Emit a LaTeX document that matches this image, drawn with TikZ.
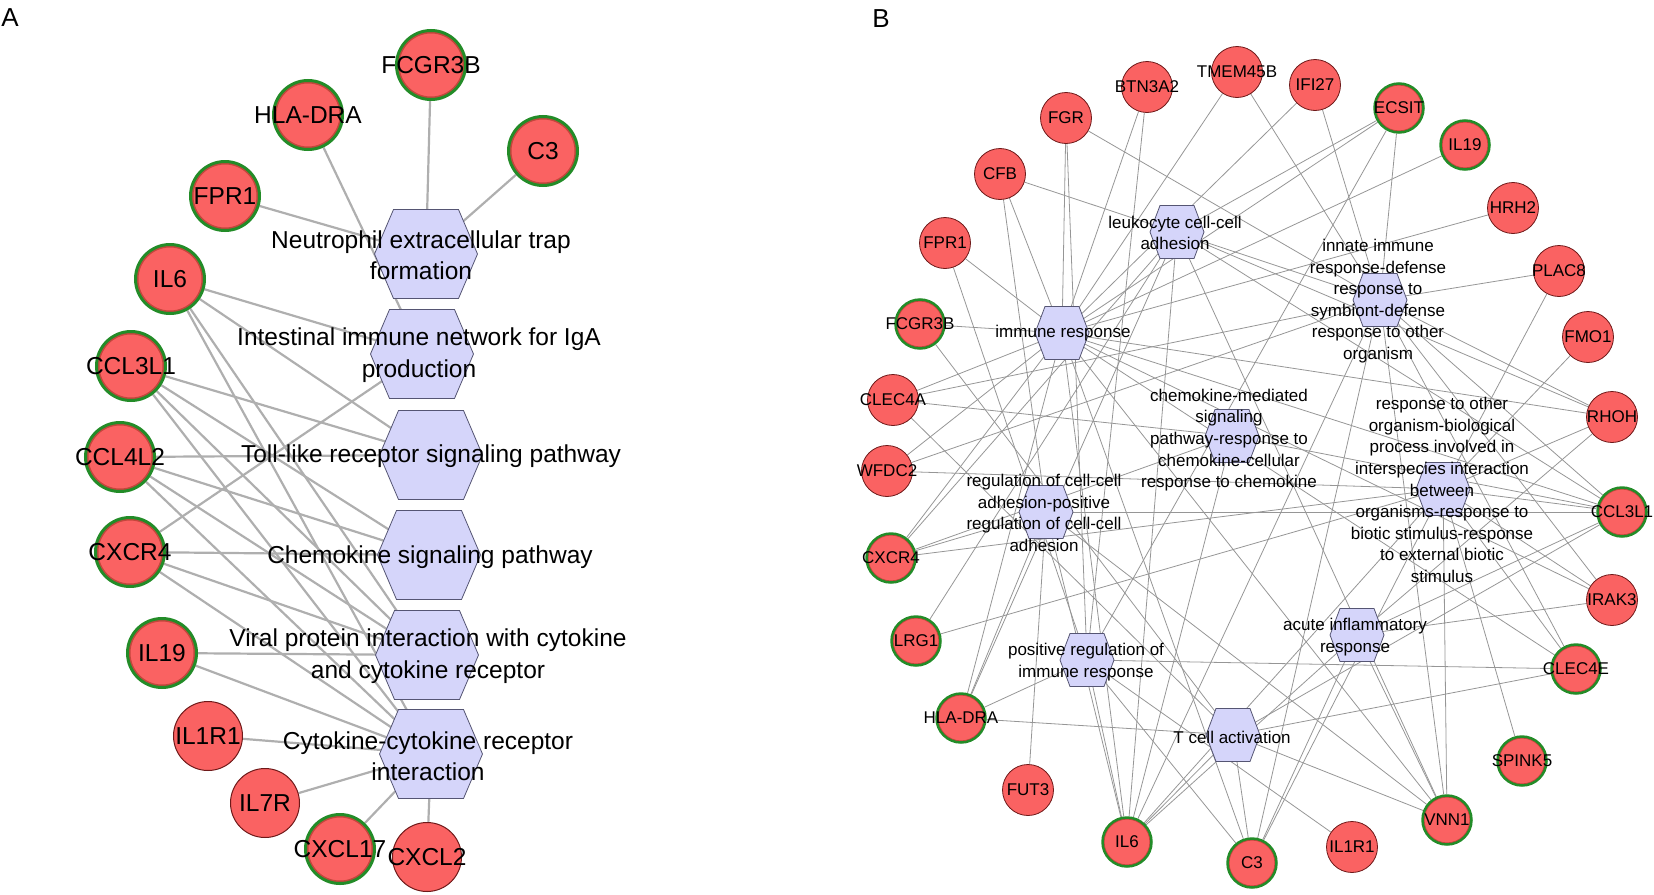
\documentclass[tikz,border=0pt]{standalone}
\usepackage{fontspec}
\setmainfont{Liberation Sans}
\usetikzlibrary{backgrounds}
\definecolor{genered}{RGB}{250,98,98}
\definecolor{darkred}{RGB}{110,25,25}
\definecolor{ringred}{RGB}{195,70,60}
\definecolor{hitgreen}{RGB}{35,140,40}
\definecolor{hexblue}{RGB}{213,213,250}
\definecolor{hexline}{RGB}{85,85,115}
\definecolor{edgegray}{RGB}{175,175,175}
\definecolor{edgegrayB}{RGB}{150,150,150}
\tikzstyle{geneA}=[circle,minimum size=69pt,inner sep=0,fill=genered,draw=darkred,line width=1pt,font=\fontsize{24.5}{28}\selectfont]
\tikzstyle{degA}=[geneA,draw=hitgreen,line width=3pt,
 path picture={\draw[ringred,line width=2pt] (path picture bounding box.center) circle (32.5pt);}]
\tikzstyle{geneB}=[circle,minimum size=51pt,inner sep=0,fill=genered,draw=darkred,line width=0.8pt,font=\fontsize{17}{20}\selectfont]
\tikzstyle{degB}=[geneB,minimum size=49pt,draw=hitgreen,line width=2.5pt,
 path picture={\draw[ringred,line width=1.5pt] (path picture bounding box.center) circle (23.2pt);}]
\tikzstyle{termA}=[align=center,inner sep=0,font=\fontsize{24.5}{31.5}\selectfont]
\tikzstyle{termB}=[align=center,inner sep=0,font=\fontsize{17}{21.6}\selectfont]
\tikzstyle{hexfill}=[fill=hexblue,draw=hexline,line width=0.8pt]
\tikzstyle{edgeA}=[draw=edgegray,line width=2.2pt]
\tikzstyle{edgeB}=[draw=edgegrayB,line width=0.8pt]
\newcommand{\nm}[1]{\makebox[0pt]{#1}}
\newcommand{\hexA}[3]{\coordinate (#1) at (#2,#3);
 \filldraw[hexfill] (#1) ++(-51.5,0) -- ++(19,-44.5) -- ++(65,0) -- ++(19,44.5) -- ++(-19,44.5) -- ++(-65,0) -- cycle;}
\newcommand{\hexB}[3]{\coordinate (#1) at (#2,#3);
 \filldraw[hexfill] (#1) ++(-27,0) -- ++(10,-26.5) -- ++(34,0) -- ++(10,26.5) -- ++(-10,26.5) -- ++(-34,0) -- cycle;}
\begin{document}
\begin{tikzpicture}[x=1pt,y=-1pt]
\useasboundingbox (0,0) rectangle (1654,894);

\node[font=\fontsize{26}{30}\selectfont] (panelA) at (10,18) {A};
\node[font=\fontsize{26}{30}\selectfont] (panelB) at (881,19) {B};

% panel A
\hexA{neut}{426}{254}
\hexA{iga}{422}{354}
\hexA{toll}{431}{455}
\hexA{chemo}{429}{555}
\hexA{viral}{427}{655}
\hexA{cyto}{431}{754}

\foreach \n/\x/\y/\t in {fcgr3b/431/65/FCGR3B,hladra/308/115/HLA-DRA,c3/543/151/C3,fpr1/225/196/FPR1,
 il6/170/279/IL6,ccl3l1/131/366/CCL3L1,ccl4l2/120/457/CCL4L2,cxcr4/130/552/CXCR4,il19/162/653/IL19,cxcl17/340/849/CXCL17}
 \node[degA] (a-\n) at (\x,\y) {\nm{\t}};
\foreach \n/\x/\y/\t in {il1r1/208/736/IL1R1,il7r/265/803/IL7R,cxcl2/427/857/CXCL2}
 \node[geneA] (a-\n) at (\x,\y) {\nm{\t}};

\node[termA] (t-neut) at (421,255) {Neutrophil extracellular trap\\formation};
\node[termA] (t-iga) at (419,355) {Intestinal immune network for IgA\\production};
\node[termA] (t-toll) at (431,456) {Toll-like receptor signaling pathway};
\node[termA] (t-chemo) at (430,557) {Chemokine signaling pathway};
\node[termA] (t-viral) at (428,656) {Viral protein interaction with cytokine\\and cytokine receptor};
\node[termA] (t-cyto) at (428,756) {Cytokine-cytokine receptor\\interaction};

% panel B
\hexB{ir}{1062}{333}
\hexB{lk}{1177}{232}
\hexB{inn}{1380}{300}
\hexB{chm}{1232}{436}
\hexB{ro}{1443}{489}
\hexB{ra}{1046}{512}
\hexB{pr}{1087}{660}
\hexB{ai}{1357}{635}
\hexB{tc}{1233}{735}

\foreach \n/\x/\y/\t in {fgr/1066/118/FGR,btn3a2/1147/87/BTN3A2,tmem45b/1237/72/TMEM45B,ifi27/1315/85/IFI27,
 hrh2/1513/208/HRH2,plac8/1559/271/PLAC8,fmo1/1588/337/FMO1,rhoh/1612/417/RHOH,irak3/1612/600/IRAK3,
 il1r1/1352/847/IL1R1,fut3/1028/790/FUT3,wfdc2/887/471/WFDC2,clec4a/893/400/CLEC4A,fpr1/945/243/FPR1,cfb/1000/174/CFB}
 \node[geneB] (b-\n) at (\x,\y) {\nm{\t}};
\foreach \n/\x/\y/\t in {ecsit/1399/108/ECSIT,il19/1465/145/IL19,ccl3l1/1622/512/CCL3L1,clec4e/1576/669/CLEC4E,
 spink5/1522/761/SPINK5,vnn1/1447/820/VNN1,c3/1252/863/C3,il6/1127/842/IL6,hladra/961/718/HLA-DRA,
 lrg1/916/641/LRG1,cxcr4/891/558/CXCR4,fcgr3b/920/324/FCGR3B}
 \node[degB] (b-\n) at (\x,\y) {\nm{\t}};

\node[termB] (t-ir) at (1063,333) {immune response};
\node[termB] (t-lk) at (1175,233) {leukocyte cell-cell\\adhesion};
\node[termB] (t-inn) at (1378,301) {innate immune\\response-defense\\response to\\symbiont-defense\\response to other\\organism};
\node[termB] (t-chm) at (1229,440) {chemokine-mediated\\signaling\\pathway-response to\\chemokine-cellular\\response to chemokine};
\node[termB] (t-ro) at (1442,490) {response to other\\organism-biological\\process involved in\\interspecies interaction\\between\\organisms-response to\\biotic stimulus-response\\to external biotic\\stimulus};
\node[termB] (t-ra) at (1044,513) {regulation of cell-cell\\adhesion-positive\\regulation of cell-cell\\adhesion};
\node[termB] (t-pr) at (1086,662) {positive regulation of\\immune response};
\node[termB] (t-ai) at (1355,637) {acute inflammatory\\response};
\node[termB] (t-tc) at (1232,737) {T cell activation};

\begin{pgfonlayer}{background}
\foreach \h/\gl in {neut/{fcgr3b,c3,fpr1},iga/{hladra,il6,cxcr4},toll/{il6,ccl3l1,ccl4l2},
 chemo/{ccl3l1,ccl4l2,cxcr4},viral/{il6,ccl3l1,ccl4l2,cxcr4,il19},
 cyto/{il6,ccl3l1,ccl4l2,cxcr4,il19,il1r1,il7r,cxcl17,cxcl2}}
 {\foreach \g in \gl {\draw[edgeA] (a-\g) -- (\h);}}
\foreach \h/\gl in {ir/{fgr,cfb,fpr1,fcgr3b,clec4a,wfdc2,cxcr4,hladra,btn3a2,tmem45b,ifi27,ecsit,il19,hrh2,rhoh,ccl3l1,irak3,clec4e,il6,c3,vnn1},
 lk/{cxcr4,lrg1,il6,rhoh,vnn1,ccl3l1,ecsit,hladra},
 inn/{fgr,cfb,tmem45b,ifi27,ecsit,plac8,rhoh,irak3,clec4e,vnn1,c3,il6,clec4a,wfdc2,ccl3l1},
 chm/{cxcr4,ccl3l1,il6,clec4a},
 ro/{wfdc2,cxcr4,lrg1,fmo1,plac8,rhoh,irak3,ccl3l1,clec4e,spink5,vnn1,il6,c3},
 ra/{cfb,cxcr4,hladra,fut3,il6,vnn1,ccl3l1},
 pr/{fgr,btn3a2,fpr1,ecsit,hladra,il6,c3,il1r1,clec4e},
 ai/{irak3,rhoh,vnn1,c3,il6,ccl3l1},
 tc/{hladra,il6,c3,vnn1,clec4e,clec4a,fcgr3b,ccl3l1}}
 {\foreach \g in \gl {\draw[edgeB] (b-\g) -- (\h);}}
\end{pgfonlayer}
\end{tikzpicture}
\end{document}
